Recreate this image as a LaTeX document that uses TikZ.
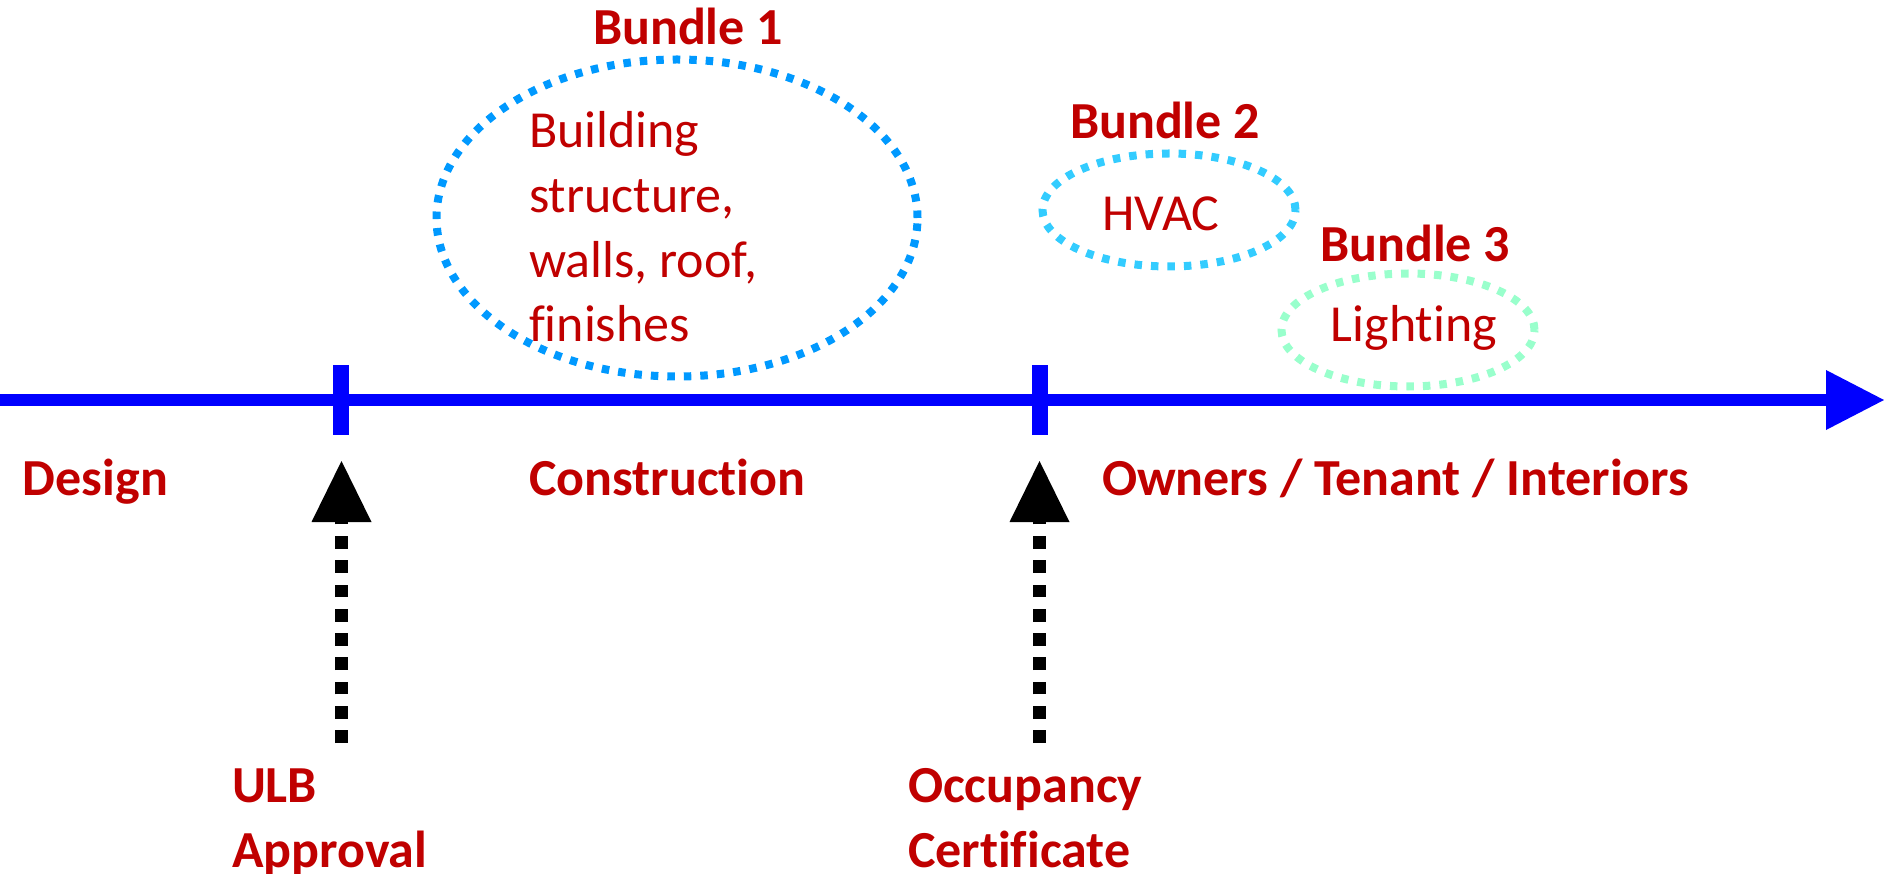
\documentclass[tikz,border=0pt]{standalone}
\usepackage{fontspec}
\setmainfont{Carlito}[Ligatures={NoCommon}]
\usetikzlibrary{arrows.meta,shapes.geometric}
\definecolor{lblred}{HTML}{C00000}
\definecolor{bundleA}{HTML}{0099FF}
\definecolor{bundleB}{HTML}{33CCFF}
\definecolor{bundleC}{HTML}{99FFCC}
\begin{document}
\begin{tikzpicture}[x=1pt,y=-1pt,
  lbl/.style={inner sep=0pt, outer sep=0pt, text=lblred, font=\fontsize{52}{65}\selectfont},
  blbl/.style={lbl, font=\fontsize{52}{65}\selectfont\bfseries},
  bundle/.style={ellipse, draw=#1, line width=8pt, dash pattern=on 7.5pt off 9pt, inner sep=0pt, outer sep=0pt},
  tickmark/.style={rectangle, fill={rgb,255:red,0;green,0;blue,255}, minimum width=16pt, minimum height=70pt, inner sep=0pt},
  timeline/.style={line width=12pt, draw={rgb,255:red,0;green,0;blue,255}, -{Triangle[width=60pt,length=58pt,line width=0pt]}},
  milestone/.style={line width=12.7pt, draw=black, dash pattern=on 12.7pt off 11.6pt, -{Triangle[width=60pt,length=61pt,line width=0pt]}}
]
\useasboundingbox (0,0) rectangle (1884,874);
% timeline
\coordinate (tlstart) at (0,400);
\coordinate (tlend) at (1884,400);
\draw[timeline] (tlstart) -- (tlend);
\node[tickmark] (tick1) at (341,400) {};
\node[tickmark] (tick2) at (1040,400) {};
% bundles
\node[bundle=bundleA, minimum width=481pt, minimum height=317pt] (e1) at (677,218) {};
\node[bundle=bundleB, minimum width=253pt, minimum height=113pt] (e2) at (1169,210) {};
\node[bundle=bundleC, minimum width=253pt, minimum height=113pt] (e3) at (1408,330) {};
\node[blbl, anchor=base] (b1) at (688,45) {Bundle 1};
\node[blbl, anchor=base] (b2) at (1165,139) {Bundle 2};
\node[blbl, anchor=base] (b3) at (1415,262) {Bundle 3};
\node[lbl, anchor=base west, align=left] (t1) at (529,342) {Building\\structure,\\walls, roof,\\finishes};
\node[lbl, anchor=base] (t2) at (1161,231) {HVAC};
\node[lbl, anchor=base] (t3) at (1414,342) {Lighting};
% phase labels
\node[blbl, anchor=base west] (design) at (23,495) {Design};
\node[blbl, anchor=base west] (constr) at (529,495) {Construction};
\node[blbl, anchor=base west] (owners) at (1102,495) {Owners / Tenant / Interiors};
% milestones
\node[blbl, anchor=base west, align=left] (ulb) at (232,867) {ULB\\Approval};
\node[blbl, anchor=base west, align=left] (occ) at (908,867) {Occupancy\\Certificate};
\coordinate (ulbfoot) at (341.5,743);
\coordinate (ulbtip) at (341.5,461);
\coordinate (occfoot) at (1039.5,743);
\coordinate (occtip) at (1039.5,461);
\draw[milestone] (ulbfoot) -- (ulbtip);
\draw[milestone] (occfoot) -- (occtip);
\end{tikzpicture}
\end{document}
